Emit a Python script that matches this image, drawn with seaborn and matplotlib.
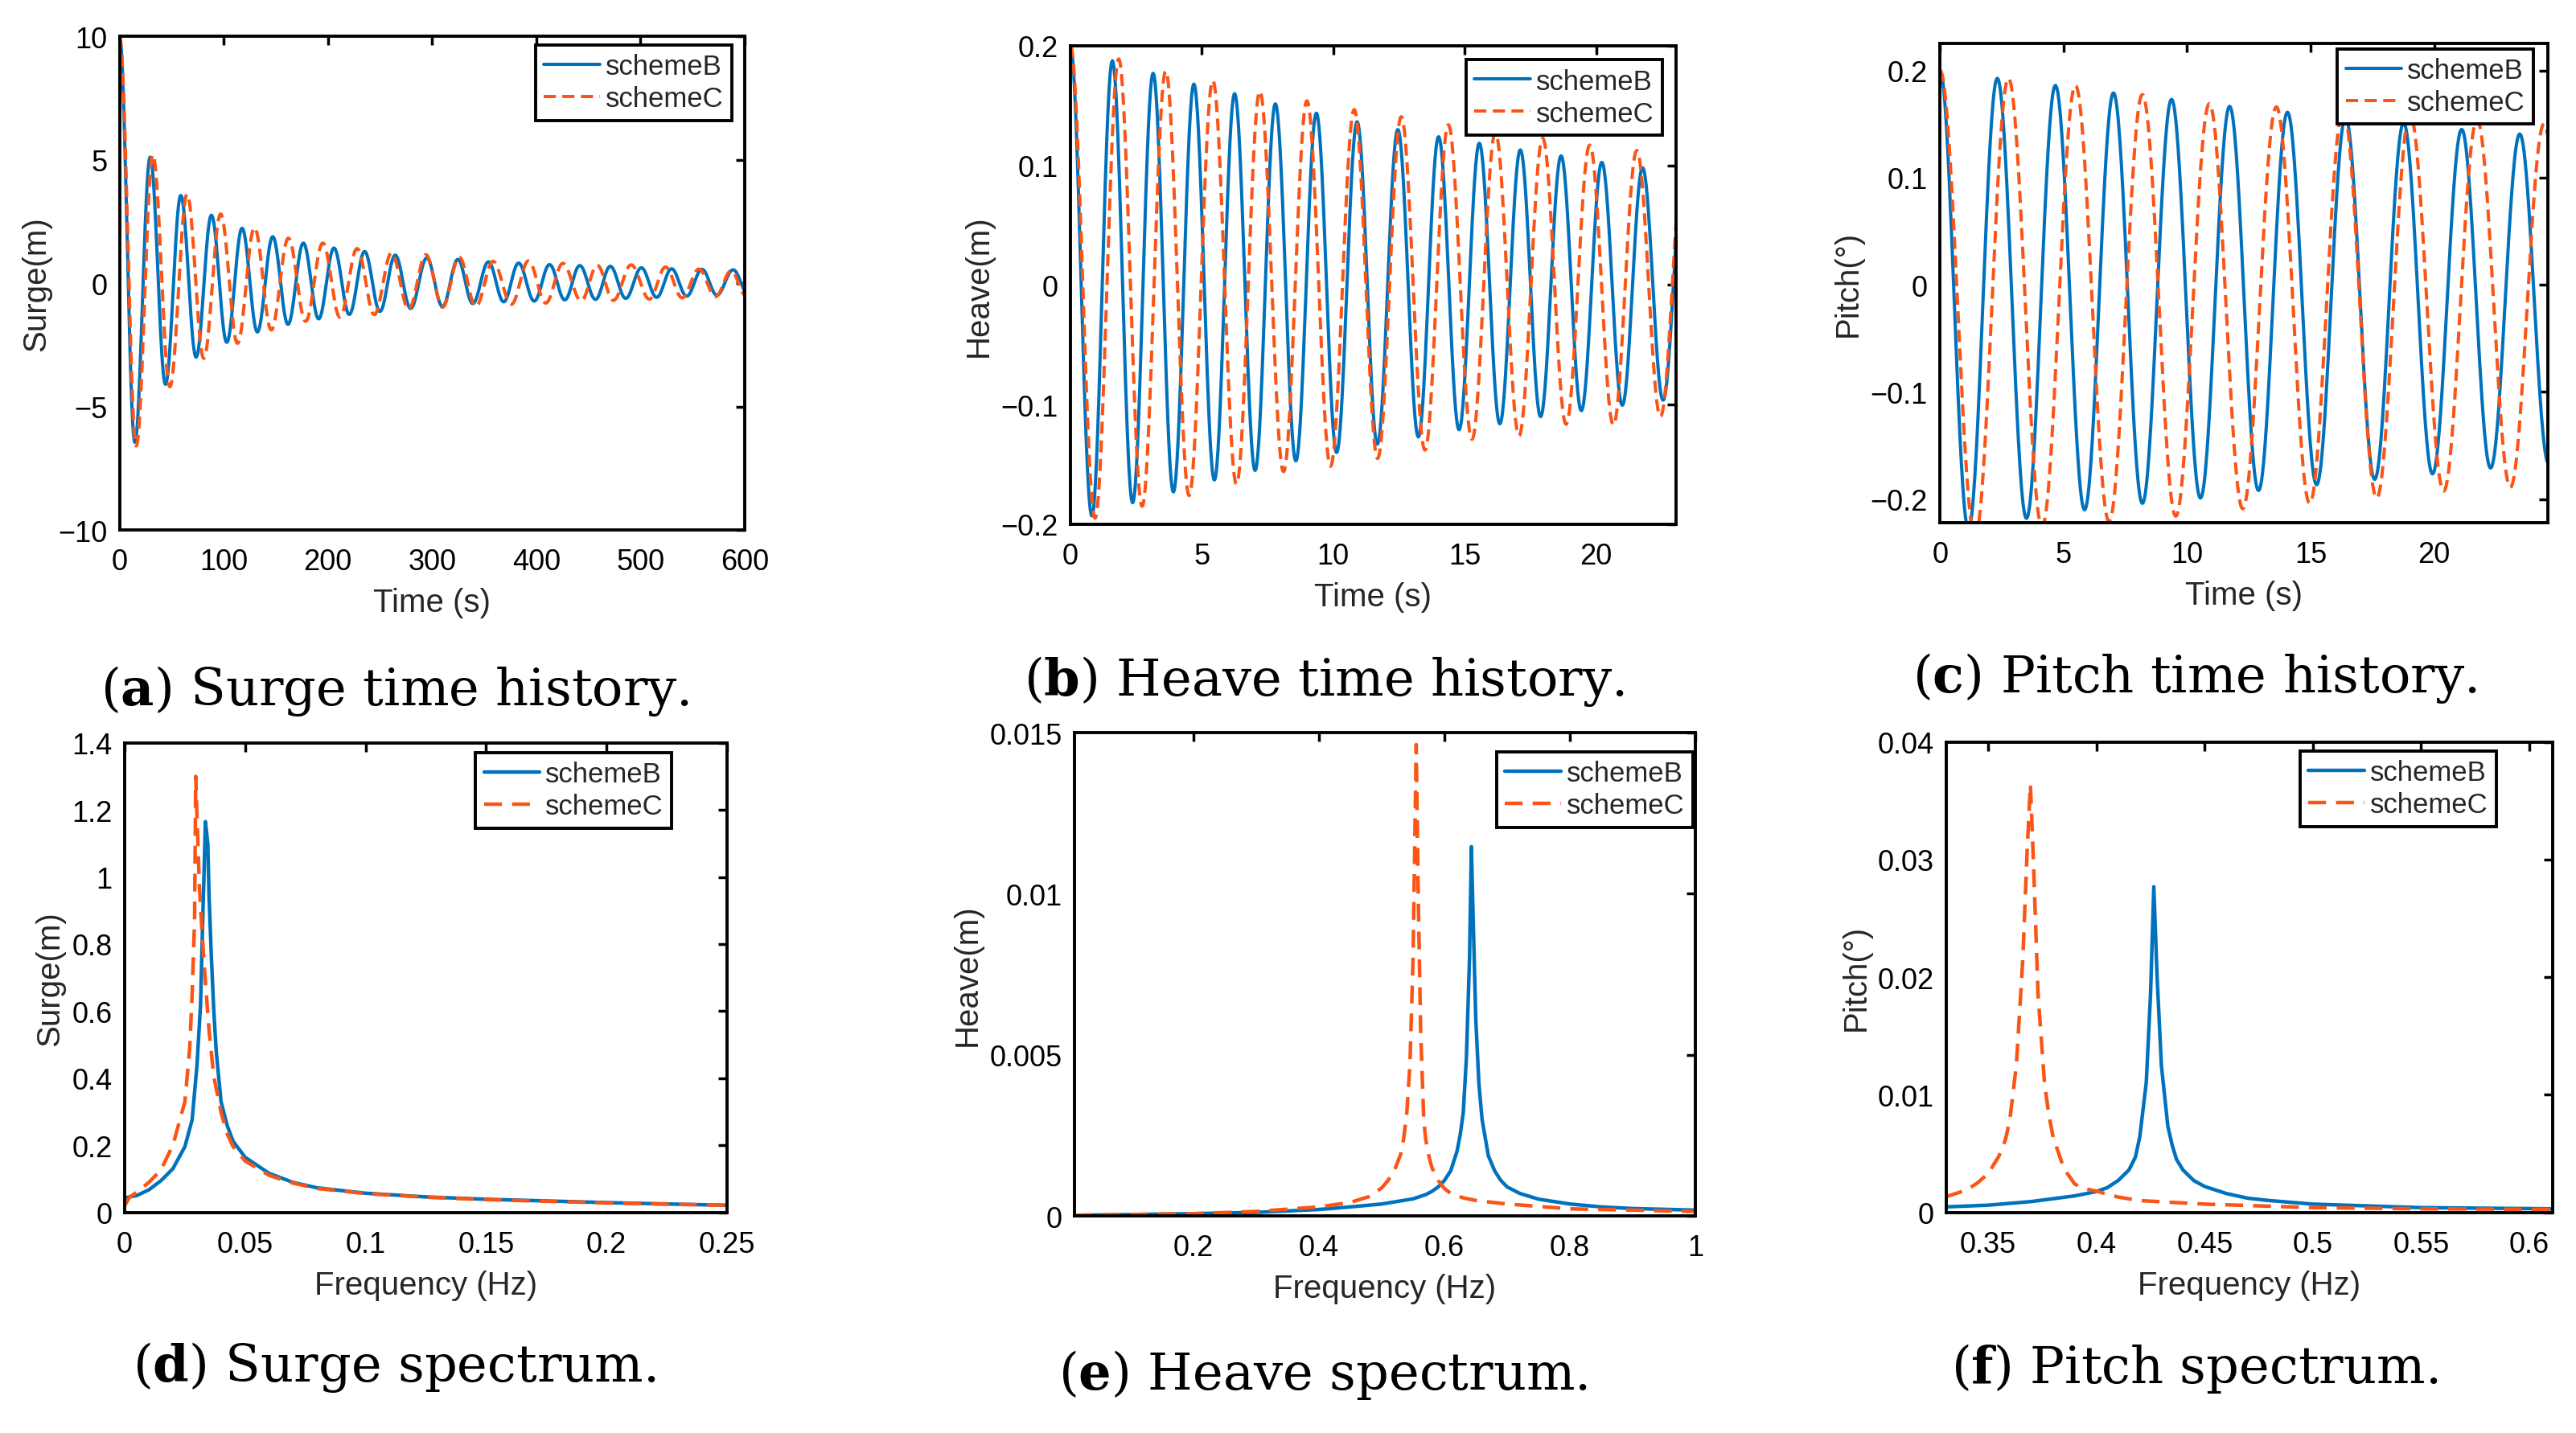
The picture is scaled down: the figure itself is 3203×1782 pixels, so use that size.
import numpy as np
import pandas as pd
import matplotlib
matplotlib.use("Agg")
import matplotlib.pyplot as plt
from matplotlib.ticker import FuncFormatter
import seaborn as sns

# ---- time histories: extrema (time s, value) ----
surge_b_t = [0, 14.7, 29.4, 44.1, 58.8, 73.5, 88.2, 102.9, 117.6, 132.3, 147.0, 161.7,
             176.4, 191.1, 205.8, 220.5, 235.2, 249.9, 264.6, 279.4, 294.9, 310.0, 324.7,
             339.0, 354.0, 368.7, 383.0, 398.0, 412.7, 427.3, 441.7, 456.8, 471.0, 485.8,
             500.8, 515.5, 529.8, 544.3, 559.0, 573.3, 588.9, 603.5]
surge_b_v = [10, -6.45, 5.1, -4.1, 3.55, -3.0, 2.75, -2.4, 2.22, -1.98, 1.88, -1.67,
             1.62, -1.45, 1.42, -1.27, 1.28, -1.15, 1.13, -1.03, 1.02, -0.95, 0.96,
             -0.83, 0.86, -0.76, 0.81, -0.73, 0.75, -0.68, 0.71, -0.66, 0.68, -0.62,
             0.62, -0.58, 0.58, -0.53, 0.56, -0.49, 0.54, -0.47]
surge_c_t = [0, 16.0, 32.0, 48.3, 64.8, 80.8, 97.0, 113.2, 129.5, 145.6, 162.0, 178.6,
             195.0, 211.5, 228.0, 244.5, 261.0, 277.5, 294.0, 310.0, 326.0, 342.0, 358.5,
             376.0, 392.5, 409.0, 425.5, 443.0, 458.5, 474.0, 491.0, 508.5, 524.0, 540.0,
             556.0, 572.0, 587.0, 601.0, 616.0]
surge_c_v = [10, -6.6, 5.2, -4.2, 3.6, -3.05, 2.8, -2.44, 2.25, -1.9, 1.82, -1.55,
             1.62, -1.38, 1.4, -1.28, 1.22, -1.06, 1.15, -0.98, 1.05, -0.94, 0.88,
             -0.86, 0.9, -0.81, 0.8, -0.72, 0.72, -0.7, 0.74, -0.65, 0.65, -0.6,
             0.57, -0.55, 0.5, -0.5, 0.48]

heave_b_t = [0, 0.82, 1.60, 2.37, 3.15, 3.92, 4.70, 5.48, 6.25, 7.03, 7.80, 8.58, 9.36,
             10.13, 10.91, 11.68, 12.46, 13.24, 14.01, 14.79, 15.56, 16.34, 17.12, 17.89,
             18.67, 19.44, 20.22, 21.00, 21.77, 22.55, 23.33]
heave_b_v = [0.2, -0.193, 0.1875, -0.182, 0.177, -0.173, 0.168, -0.163, 0.16, -0.155,
             0.1515, -0.147, 0.1437, -0.14, 0.1365, -0.133, 0.13, -0.127, 0.124, -0.121,
             0.1185, -0.116, 0.113, -0.11, 0.108, -0.105, 0.1026, -0.1005, 0.098,
             -0.0963, 0.094]
heave_c_t = [0, 0.94, 1.84, 2.73, 3.63, 4.52, 5.42, 6.32, 7.21, 8.11, 9.00, 9.90, 10.80,
             11.69, 12.59, 13.49, 14.38, 15.28, 16.17, 17.07, 17.97, 18.86, 19.76, 20.66,
             21.55, 22.45, 23.35]
heave_c_v = [0.2, -0.195, 0.189, -0.185, 0.179, -0.176, 0.171, -0.1665, 0.162, -0.156,
             0.154, -0.1515, 0.1467, -0.145, 0.1407, -0.138, 0.134, -0.129, 0.1275,
             -0.126, 0.1227, -0.1164, 0.117, -0.117, 0.1125, -0.11, 0.108]

pitch_b_t = [0, 1.15, 2.32, 3.50, 4.67, 5.85, 7.02, 8.19, 9.37, 10.54, 11.72, 12.89,
             14.06, 15.24, 16.41, 17.59, 18.76, 19.93, 21.11, 22.28, 23.46, 24.63, 25.80]
pitch_b_v = [0.2, -0.228, 0.1926, -0.218, 0.186, -0.21, 0.179, -0.204, 0.173, -0.199,
             0.1665, -0.192, 0.161, -0.1866, 0.156, -0.1816, 0.151, -0.1765, 0.145,
             -0.171, 0.1407, -0.167, 0.136]
pitch_c_t = [0, 1.42, 2.77, 4.13, 5.48, 6.84, 8.19, 9.54, 10.90, 12.25, 13.61, 14.96,
             16.31, 17.67, 19.02, 20.38, 21.73, 23.08, 24.44, 25.79]
pitch_c_v = [0.2, -0.235, 0.1926, -0.226, 0.186, -0.221, 0.1775, -0.216, 0.169, -0.209,
             0.166, -0.204, 0.1625, -0.199, 0.159, -0.1926, 0.154, -0.189, 0.15, -0.185]

# ---- spectra (frequency Hz, amplitude) ----
ssp_b_f = [0, 0.005, 0.01, 0.015, 0.02, 0.025, 0.028, 0.030, 0.0315, 0.032, 0.0325, 0.033,
           0.0335, 0.0345, 0.035, 0.036, 0.037, 0.038, 0.040, 0.0425, 0.045, 0.05, 0.06,
           0.07, 0.08, 0.1, 0.125, 0.15, 0.2, 0.25]
ssp_b_a = [0.043, 0.05, 0.067, 0.094, 0.13, 0.196, 0.276, 0.437, 0.62, 0.758, 0.9, 1.026,
           1.165, 1.10, 0.95, 0.758, 0.6, 0.48, 0.33, 0.26, 0.212, 0.164, 0.116,
           0.089, 0.073, 0.057, 0.046, 0.039, 0.029, 0.021]
ssp_c_f = [0, 0.002, 0.005, 0.01, 0.015, 0.02, 0.025, 0.027, 0.028, 0.029, 0.0295, 0.030,
           0.031, 0.032, 0.033, 0.035, 0.037, 0.040, 0.0425, 0.045, 0.05, 0.055, 0.06,
           0.07, 0.08, 0.1, 0.125, 0.15, 0.2, 0.25]
ssp_c_a = [0.02, 0.045, 0.06, 0.089, 0.126, 0.2, 0.33, 0.49, 0.65, 0.865, 1.30, 1.186,
           0.972, 0.85, 0.737, 0.544, 0.405, 0.298, 0.235, 0.196, 0.153, 0.132, 0.11,
           0.087, 0.071, 0.056, 0.045, 0.038, 0.028, 0.021]

hsp_b_f = [0.01, 0.2, 0.3, 0.4, 0.45, 0.5, 0.55, 0.57, 0.58, 0.59, 0.60, 0.61, 0.62, 0.625,
           0.63, 0.635, 0.64, 0.643, 0.646, 0.65, 0.655, 0.66, 0.67, 0.68, 0.69, 0.70,
           0.72, 0.75, 0.8, 0.85, 0.9, 1.0]
hsp_b_a = [0.00002, 0.00007, 0.00011, 0.0002, 0.00028, 0.00037, 0.00053, 0.00066, 0.00076,
           0.0009, 0.0011, 0.0014, 0.002, 0.0025, 0.0032, 0.0049, 0.008, 0.01146, 0.0091,
           0.0061, 0.0041, 0.003, 0.00187, 0.0014, 0.0011, 0.0009, 0.0007, 0.00052,
           0.00037, 0.00028, 0.00023, 0.00018]
hsp_c_f = [0.01, 0.2, 0.3, 0.4, 0.45, 0.48, 0.5, 0.51, 0.52, 0.53, 0.535, 0.54, 0.545, 0.55,
           0.555, 0.558, 0.562, 0.567, 0.57, 0.575, 0.58, 0.59, 0.60, 0.61, 0.63, 0.65,
           0.7, 0.8, 0.9, 1.0]
hsp_c_a = [0.00002, 0.00007, 0.00014, 0.00028, 0.00042, 0.0006, 0.00087, 0.0011, 0.0014,
           0.0019, 0.0024, 0.0032, 0.0047, 0.008, 0.01463, 0.0102, 0.0058, 0.003, 0.0024,
           0.00187, 0.0015, 0.0011, 0.00085, 0.0007, 0.00056, 0.00048, 0.00037, 0.00022,
           0.00018, 0.00014]

psp_b_f = [0.33, 0.35, 0.37, 0.39, 0.40, 0.405, 0.41, 0.415, 0.418, 0.42, 0.423, 0.425,
           0.4265, 0.428, 0.430, 0.433, 0.435, 0.437, 0.44, 0.445, 0.45, 0.46, 0.47, 0.48,
           0.5, 0.55, 0.611]
psp_b_a = [0.00046, 0.00061, 0.00092, 0.0014, 0.00177, 0.0021, 0.0027, 0.0036, 0.0047,
           0.0064, 0.011, 0.0186, 0.0277, 0.0201, 0.0125, 0.0073, 0.0057, 0.0045, 0.0036,
           0.0027, 0.0022, 0.0016, 0.0012, 0.001, 0.0007, 0.0004, 0.0003]
psp_c_f = [0.33, 0.34, 0.345, 0.35, 0.355, 0.358, 0.36, 0.363, 0.366, 0.368, 0.3695, 0.371,
           0.373, 0.376, 0.378, 0.38, 0.385, 0.39, 0.395, 0.40, 0.41, 0.42, 0.45, 0.5,
           0.55, 0.611]
psp_c_a = [0.0013, 0.0019, 0.0025, 0.0033, 0.0048, 0.0062, 0.0079, 0.0125, 0.0216, 0.0308,
           0.0364, 0.0293, 0.0186, 0.011, 0.0083, 0.0064, 0.0037, 0.0024, 0.002, 0.0018,
           0.0013, 0.001, 0.0007, 0.0004, 0.0003, 0.00025]

legend_names = ["schemeB", "schemeC"]
BLUE = "#0072BD"
ORANGE = "#FA5516"


def smooth(ts, vs, n=40):
    # half-cosine between successive extrema
    xs, ys = [], []
    for i in range(len(ts) - 1):
        s = np.linspace(0, 1, n, endpoint=False)
        xs.append(ts[i] + (ts[i + 1] - ts[i]) * s)
        ys.append(vs[i] + (vs[i + 1] - vs[i]) * (1 - np.cos(np.pi * s)) / 2)
    xs.append([ts[-1]])
    ys.append([vs[-1]])
    return np.concatenate(xs), np.concatenate(ys)


sns.set_theme(style="white")
plt.rcParams["font.family"] = ["Liberation Sans", "DejaVu Sans"]
plt.rcParams["mathtext.fontset"] = "dejavuserif"
plt.rcParams["axes.unicode_minus"] = True

fig = plt.figure(figsize=(32.03, 17.83), dpi=100)

fmt = FuncFormatter(lambda v, p: f"{v:g}".replace("-", "\u2212"))

panels = [
    dict(rect=[0.0464, 0.6298, 0.2427, 0.3444], b=smooth(surge_b_t, surge_b_v), c=smooth(surge_c_t, surge_c_v),
         xlim=(0, 600), ylim=(-10, 10), xt=[0, 100, 200, 300, 400, 500, 600], yt=[-10, -5, 0, 5, 10],
         xl="Time (s)", yl="Surge(m)", anchor=(0.979, 0.982), time=True,
         cap=(0.1533, 0.5081, r"($\mathbf{a}$) Surge time history.")),
    dict(rect=[0.4155, 0.6338, 0.2351, 0.3337], b=smooth(heave_b_t, heave_b_v), c=smooth(heave_c_t, heave_c_v),
         xlim=(0, 23.04), ylim=(-0.2, 0.2), xt=[0, 5, 10, 15, 20], yt=[-0.2, -0.1, 0, 0.1, 0.2],
         xl="Time (s)", yl="Heave(m)", anchor=(0.977, 0.971), time=True,
         cap=(0.514, 0.5149, r"($\mathbf{b}$) Heave time history.")),
    dict(rect=[0.7531, 0.6349, 0.2360, 0.3345], b=smooth(pitch_b_t, pitch_b_v), c=smooth(pitch_c_t, pitch_c_v),
         xlim=(0, 24.6), ylim=(-0.222, 0.2255), xt=[0, 5, 10, 15, 20], yt=[-0.2, -0.1, 0, 0.1, 0.2],
         xl="Time (s)", yl="Pitch(°)", anchor=(0.976, 0.988), time=True,
         cap=(0.852, 0.5171, r"($\mathbf{c}$) Pitch time history.")),
    dict(rect=[0.0484, 0.1539, 0.2338, 0.3275], b=(ssp_b_f, ssp_b_a), c=(ssp_c_f, ssp_c_a),
         xlim=(0, 0.25), ylim=(0, 1.4), xt=[0, 0.05, 0.1, 0.15, 0.2, 0.25],
         yt=[0, 0.2, 0.4, 0.6, 0.8, 1, 1.2, 1.4],
         xl="Frequency (Hz)", yl="Surge(m)", anchor=(0.908, 0.979), time=False,
         cap=(0.153, 0.0365, r"($\mathbf{d}$) Surge spectrum.")),
    dict(rect=[0.4171, 0.1514, 0.2410, 0.3371], b=(hsp_b_f, hsp_b_a), c=(hsp_c_f, hsp_c_a),
         xlim=(0.01, 1), ylim=(0, 0.015), xt=[0.2, 0.4, 0.6, 0.8, 1], yt=[0, 0.005, 0.01, 0.015],
         xl="Frequency (Hz)", yl="Heave(m)", anchor=(0.996, 0.96), time=False,
         cap=(0.5137, 0.0308, r"($\mathbf{e}$) Heave spectrum.")),
    dict(rect=[0.7556, 0.1539, 0.2353, 0.3280], b=(psp_b_f, psp_b_a), c=(psp_c_f, psp_c_a),
         xlim=(0.3307, 0.6107), ylim=(0, 0.04), xt=[0.35, 0.4, 0.45, 0.5, 0.55, 0.6],
         yt=[0, 0.01, 0.02, 0.03, 0.04],
         xl="Frequency (Hz)", yl="Pitch(°)", anchor=(0.907, 0.981), time=False,
         cap=(0.852, 0.0353, r"($\mathbf{f}$) Pitch spectrum.")),
]

for p in panels:
    ax = fig.add_axes(p["rect"])
    lw = 2.9 if p["time"] else 3.2
    dash = (3.75, 2.0) if p["time"] else (5.0, 2.8)
    df_b = pd.DataFrame({"x": p["b"][0], "y": p["b"][1]})
    df_c = pd.DataFrame({"x": p["c"][0], "y": p["c"][1]})
    sns.lineplot(data=df_b, x="x", y="y", ax=ax, color=BLUE, linewidth=lw,
                 label=legend_names[0], sort=False, estimator=None)
    sns.lineplot(data=df_c, x="x", y="y", ax=ax, color=ORANGE, linewidth=lw,
                 label=legend_names[1], sort=False, estimator=None)
    ax.get_lines()[-1].set_dashes(dash)
    ax.set_xlim(*p["xlim"])
    ax.set_ylim(*p["ylim"])
    ax.set_xticks(p["xt"])
    ax.set_yticks(p["yt"])
    ax.xaxis.set_major_formatter(fmt)
    ax.yaxis.set_major_formatter(fmt)
    ax.set_xlabel(p["xl"], fontsize=29, labelpad=10)
    ax.set_ylabel(p["yl"], fontsize=29, labelpad=6)
    ax.tick_params(direction="in", top=True, right=True, length=8, width=2.5,
                   labelsize=26, colors="black")
    ax.tick_params(axis="x", pad=16)
    ax.tick_params(axis="y", pad=11)
    for s in ax.spines.values():
        s.set_visible(True)
        s.set_linewidth(2.8)
        s.set_color("black")
    ax.set_facecolor("white")
    leg = ax.legend(loc="upper right", bbox_to_anchor=p["anchor"], borderaxespad=0,
                    fancybox=False, framealpha=1, edgecolor="black", fontsize=25,
                    handlelength=2.0, handletextpad=0.2, borderpad=0.3, labelspacing=0.2)
    leg.get_frame().set_linewidth(2.8)
    cx, cy, ctext = p["cap"]
    fig.text(cx, cy, ctext, ha="center", va="baseline", fontsize=46,
             family="DejaVu Serif", color="black")

fig.savefig("out.png", dpi=100, facecolor="white")
